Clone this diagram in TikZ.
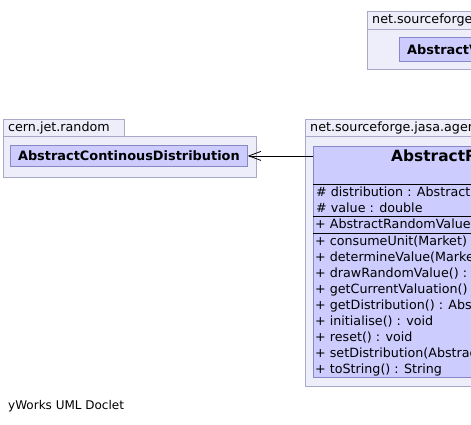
\documentclass[tikz,border=0pt]{standalone}
\usepackage{fontspec}
\setmainfont{DejaVu Sans}
\usetikzlibrary{arrows.meta}
\definecolor{pkgfill}{RGB}{238,238,250}
\definecolor{pkgline}{RGB}{168,168,200}
\definecolor{clsfill}{RGB}{204,204,255}
\definecolor{clsline}{RGB}{136,136,200}
\tikzset{
  pkg/.style={draw=pkgline,fill=pkgfill,line width=0.8pt},
  cls/.style={draw=clsline,fill=clsfill,line width=0.8pt,rectangle,inner sep=0pt,anchor=north west},
  small/.style={inner sep=0pt,anchor=west,font=\fontsize{12.7}{14}\selectfont},
  foot/.style={inner sep=0pt,anchor=west,font=\fontsize{12}{14}\selectfont},
  clsname/.style={inner sep=0pt,font=\fontsize{12.9}{14}\selectfont\bfseries},
  header/.style={inner sep=0pt,anchor=west,font=\fontsize{15.4}{17}\selectfont\bfseries},
  sep/.style={draw=black,line width=0.8pt}
}
\begin{document}
\begin{tikzpicture}[x=1pt,y=-1pt]
\useasboundingbox (0,0) rectangle (471,424);
\clip (0,0) rectangle (471,424);
% top package
\draw[pkg] (367,11) rectangle (640,69);
\draw[pkg] (367,11) rectangle (640,29);
\node[small] (toppkg) at (372,20) {net.sourceforge.jasa.agent.valuation};
\node[cls,minimum width=240pt,minimum height=24pt] (topcls) at (399,37) {};
\node[clsname,anchor=west] (topname) at (407,49.5) {AbstractValuer};
% cern package
\draw[pkg] (3,136) rectangle (256,177);
\draw[pkg] (3,119) rectangle (124,136);
\node[small] (cernpkg) at (8,127.5) {cern.jet.random};
\node[cls,minimum width=237pt,minimum height=21pt] (acd) at (10,145) {};
\node[clsname] (acdname) at (acd.center) {AbstractContinousDistribution};
% right package
\draw[pkg] (305,136) rectangle (700,386);
\draw[pkg] (305,119) rectangle (700,136);
\node[small] (rpkg) at (310,127.5) {net.sourceforge.jasa.agent.valuation};
\node[cls,minimum width=360pt,minimum height=231pt] (valuer) at (313,146) {};
\node[header] (vname) at (391,155.5) {AbstractRandomValuer};
\draw[sep] (313,184) -- (700,184);
\node[small] (a1) at (316,192) {\# distribution : AbstractContinousDistribution};
\node[small] (a2) at (316,208) {\# value : double};
\draw[sep] (313,216.5) -- (700,216.5);
\node[small] (c1) at (315,225) {+ AbstractRandomValuer()};
\draw[sep] (313,233.5) -- (700,233.5);
\node[small] (m1) at (315,242) {+ consumeUnit(Market) : void};
\node[small] (m2) at (315,258) {+ determineValue(Market) : double};
\node[small] (m3) at (315,274) {+ drawRandomValue() : void};
\node[small] (m4) at (315,290) {+ getCurrentValuation() : double};
\node[small] (m5) at (315,306) {+ getDistribution() : AbstractContinousDistribution};
\node[small] (m6) at (315,322) {+ initialise() : void};
\node[small] (m7) at (315,338) {+ reset() : void};
\node[small] (m8) at (315,354) {+ setDistribution(AbstractContinousDistribution) : void};
\node[small] (m9) at (315,370) {+ toString() : String};
% association arrow
\draw[line width=0.8pt,-{Straight Barb[length=12pt,width=9pt]}] (acd.east -| valuer.west) -- (acd.east);
% footer
\node[foot] (footer) at (8,406) {yWorks UML Doclet};
\end{tikzpicture}
\end{document}
